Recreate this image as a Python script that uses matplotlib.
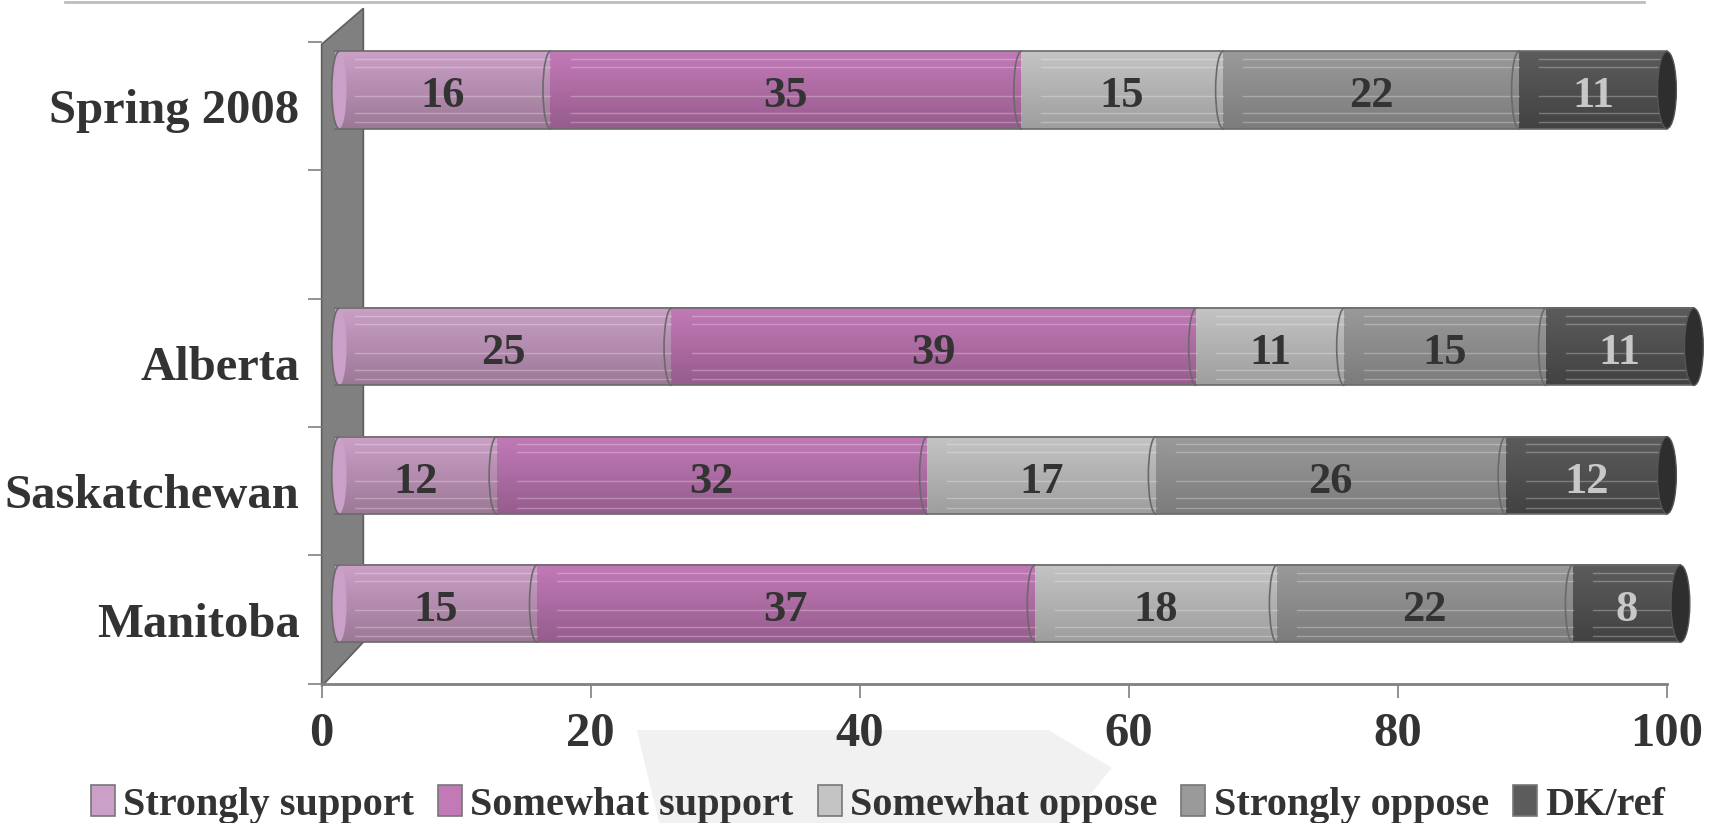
"""
    stacked 3d-looking cylinder bars: support / oppose by province
"""

import numpy as np
import matplotlib
matplotlib.use("Agg")
from matplotlib import pyplot as plt
from matplotlib.colors import LinearSegmentedColormap
from matplotlib.patches import Polygon, Ellipse, Arc, Patch

categories = ["Manitoba", "Saskatchewan", "Alberta", "", "Spring 2008"]
series = ["Strongly support", "Somewhat support", "Somewhat oppose",
          "Strongly oppose", "DK/ref"]
strongly_support = [15, 12, 25, None, 16]
somewhat_support = [37, 32, 39, None, 35]
somewhat_oppose = [18, 17, 11, None, 15]
strongly_oppose = [22, 26, 15, None, 22]
dk_ref = [8, 12, 11, None, 11]
xticks = [0, 20, 40, 60, 80, 100]

# (top colour, bottom colour, label colour)
shades = [("#cba0c8", "#9c7896", "#333333"),
          ("#c27ab7", "#965c8d", "#333333"),
          ("#c4c4c4", "#9e9e9e", "#333333"),
          ("#9a9a9a", "#7c7c7c", "#333333"),
          ("#5c5c5c", "#424242", "#c8c8c8")]

plt.rcParams["font.family"] = ["Liberation Serif", "DejaVu Serif"]
plt.rcParams["font.weight"] = "bold"

fig = plt.figure(figsize=(17.21, 8.23), dpi=100)
ax = fig.add_axes([0.1869, 0.1691, 0.7817, 0.7802])
ax.set_facecolor("none")
ax.set_zorder(1)

# faint arrow in the background and frame line at top
fig.patches.append(Polygon([(0.370, 0.113), (0.609, 0.113), (0.646, 0.067),
                            (0.62, 0.0), (0.383, 0.0)],
                           closed=True, transform=fig.transFigure,
                           facecolor="#f1f1f1", edgecolor="none", zorder=-1))
fig.add_artist(plt.Line2D([0.038, 0.955], [0.997, 0.997],
                          transform=fig.transFigure, color="#bdbdbd", lw=2))

# grey side wall
wall = Polygon([(0, -0.52), (0, 4.48), (3.1, 4.76), (3.1, -0.175)],
               closed=True, facecolor="#808080", edgecolor="#5e5e5e",
               lw=1.2, clip_on=False, zorder=1)
ax.add_patch(wall)

data = [strongly_support, somewhat_support, somewhat_oppose,
        strongly_oppose, dk_ref]
dx, dy, h = 1.0, 0.124, 0.6
grad = np.linspace(0, 1, 64).reshape(-1, 1)

for i, cat in enumerate(categories):
    if data[0][i] is None:
        continue
    yc = i + dy
    left = dx
    for k, vals in enumerate(data):
        v = vals[i]
        top, bot, lab = shades[k]
        cmap = LinearSegmentedColormap.from_list("c%d" % k, [bot, top])
        ax.imshow(grad, extent=[left, left + v, yc - h / 2, yc + h / 2],
                  origin="lower", aspect="auto", cmap=cmap, zorder=2,
                  clip_on=False)
        for yy in [yc + h / 2, yc - h / 2]:
            ax.plot([left, left + v], [yy, yy], color="#6a6a6a", lw=1.2,
                    zorder=3, clip_on=False)
        # light stripes
        for f in [0.08, 0.2, 0.42, 0.8, 0.9]:
            ax.plot([left + 1.5, left + v], [yc - h / 2 + f * h] * 2,
                    color="white", alpha=0.28, lw=1, zorder=3, clip_on=False)
        if k == 0:
            ax.add_patch(Ellipse((left + 0.3, yc), 1.1, h, facecolor=top,
                                 edgecolor="none", zorder=2))
        ax.add_patch(Arc((left + (0.3 if k == 0 else 0), yc), 1.1, h,
                         theta1=90, theta2=270, color="#6a6a6a", lw=1.2,
                         zorder=3, clip_on=False))
        ax.text(left + v / 2, yc - 0.05, str(v), ha="center", va="center",
                fontsize=32, fontweight="bold", color=lab, zorder=5)
        left += v
    ax.add_patch(Ellipse((left, yc), 1.4, h, facecolor="#2e2e2e",
                         edgecolor="#555555", lw=1, zorder=4, clip_on=False))

ax.set_xlim(0, 100)
ax.set_ylim(-0.5, 4.5)

for s in ["top", "right", "left"]:
    ax.spines[s].set_visible(False)
ax.spines["bottom"].set_color("#808080")
ax.spines["bottom"].set_linewidth(2)

ax.set_xticks(xticks)
ax.set_xticklabels([str(t) for t in xticks])
ax.tick_params(axis="x", length=10, width=1.2, color="#808080", pad=10,
               labelsize=35, labelcolor="#333333")

ax.set_yticks(np.arange(-0.5, 5, 1.0))
ax.set_yticklabels([])
ax.set_yticks(np.arange(len(categories)), minor=True)
ax.set_yticklabels(categories, minor=True)
ax.tick_params(axis="y", which="major", length=10, width=1.2,
               color="#808080", direction="out")
ax.tick_params(axis="y", which="minor", length=0, pad=16, labelsize=35,
               labelcolor="#333333")

handles = [Patch(facecolor=s[0], edgecolor="#777777", lw=1.2) for s in shades]
leg = fig.legend(handles, series, loc="lower center", ncol=5,
                 bbox_to_anchor=(0.51, -0.045), frameon=False,
                 fontsize=29, handlelength=0.6, handleheight=0.8,
                 handletextpad=0.2, columnspacing=0.6)
for t in leg.get_texts():
    t.set_color("#333333")

fig.savefig("out.png", dpi=100)
